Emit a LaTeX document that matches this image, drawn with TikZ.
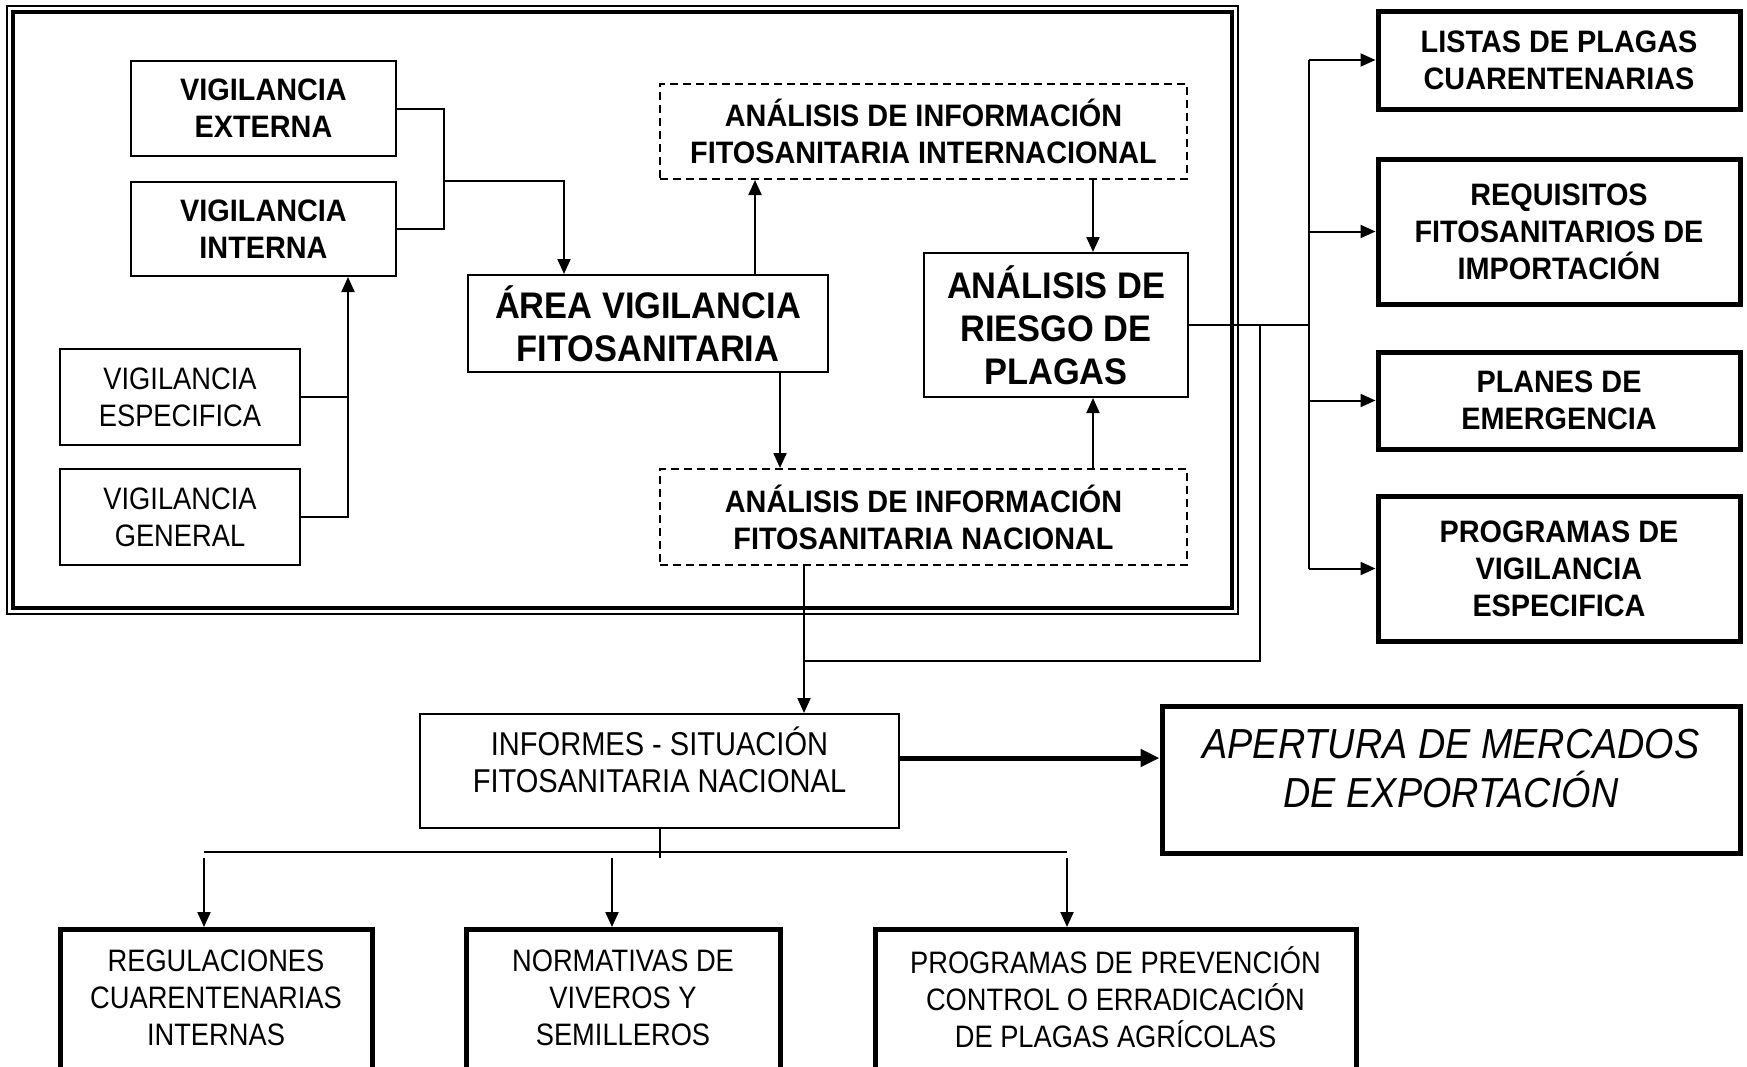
\documentclass[tikz,border=0pt]{standalone}
\usepackage{fontspec}
\setmainfont[UprightFeatures={FakeStretch=0.88}, ItalicFeatures={FakeStretch=0.9}, BoldFeatures={FakeStretch=0.93}]{Liberation Sans}
\usetikzlibrary{arrows.meta}
\newcommand{\boxtxt}{\fontsize{31}{37}\selectfont}
\newcommand{\inftxt}{\fontsize{33}{37}\selectfont}
\newcommand{\bigtxt}{\fontsize{37}{43}\selectfont}
\newcommand{\apertxt}{\fontsize{42}{49}\selectfont}
\tikzset{
  caja/.style={draw, line width=2pt, align=center, font=\boxtxt, inner sep=0pt},
  cajab/.style={caja, line width=5pt},
  cajad/.style={caja, dash pattern=on 8pt off 5pt},
  linea/.style={line width=2pt},
  flecha/.style={line width=2pt, -{Triangle[length=15pt,width=13pt]}},
  flechab/.style={line width=5pt, -{Triangle[length=19pt,width=17pt]}}
}

\begin{document}
\begin{tikzpicture}[x=1pt,y=-1pt]
\useasboundingbox (0,0) rectangle (1747,1066);
\draw[line width=2pt] (7,6) rectangle (1238,614);
\draw[line width=3.5pt] (13,12) rectangle (1232,608);

\node[caja, font=\boxtxt\bfseries, minimum width=265pt, minimum height=95pt] (ext) at (263.5,108.5) {VIGILANCIA\\EXTERNA};
\node[caja, font=\boxtxt\bfseries, minimum width=265pt, minimum height=94pt] (int) at (263.5,229) {VIGILANCIA\\INTERNA};
\node[caja, minimum width=240pt, minimum height=96pt] (esp) at (180,397) {VIGILANCIA\\ESPECIFICA};
\node[caja, minimum width=240pt, minimum height=96pt] (gen) at (180,517) {VIGILANCIA\\GENERAL};
\node[caja, font=\bigtxt\bfseries, minimum width=360pt, minimum height=97pt] (area) at (648,323.5) {ÁREA VIGILANCIA\\FITOSANITARIA};
\node[cajad, font=\boxtxt\bfseries, minimum width=527pt, minimum height=95pt] (infint) at (923.5,131.5) {ANÁLISIS DE INFORMACIÓN\\FITOSANITARIA INTERNACIONAL};
\node[caja, font=\bigtxt\bfseries, minimum width=264pt, minimum height=144pt] (arp) at (1056,325) {ANÁLISIS DE\\RIESGO DE\\PLAGAS};
\node[cajad, font=\boxtxt\bfseries, minimum width=527pt, minimum height=96pt] (infnac) at (923.5,517) {ANÁLISIS DE INFORMACIÓN\\FITOSANITARIA NACIONAL};

\node[cajab, font=\boxtxt\bfseries, minimum width=362pt, minimum height=98pt] (listas) at (1559,60) {LISTAS DE PLAGAS\\CUARENTENARIAS};
\node[cajab, font=\boxtxt\bfseries, minimum width=362pt, minimum height=145pt] (req) at (1559,231.5) {REQUISITOS\\FITOSANITARIOS DE\\IMPORTACIÓN};
\node[cajab, font=\boxtxt\bfseries, minimum width=362pt, minimum height=97pt] (planes) at (1559,400.5) {PLANES DE\\EMERGENCIA};
\node[cajab, font=\boxtxt\bfseries, minimum width=362pt, minimum height=145pt] (progvig) at (1559,568.5) {PROGRAMAS DE\\VIGILANCIA\\ESPECIFICA};

\node[caja, font=\inftxt, minimum width=479pt, minimum height=114pt, text depth=22pt] (informes) at (659.5,771) {INFORMES - SITUACIÓN\\FITOSANITARIA NACIONAL};
\node[cajab, font=\apertxt\itshape, minimum width=578pt, minimum height=147pt, text depth=22pt] (apertura) at (1451,779.5) {APERTURA DE MERCADOS\\DE EXPORTACIÓN};

\node[cajab, anchor=north, minimum width=312pt, minimum height=150pt, text depth=14pt] (reg) at (216,927) {REGULACIONES\\CUARENTENARIAS\\INTERNAS};
\node[cajab, anchor=north, minimum width=314pt, minimum height=150pt, text depth=14pt] (norm) at (623,927) {NORMATIVAS DE\\VIVEROS Y\\SEMILLEROS};
\node[cajab, anchor=north, minimum width=481pt, minimum height=150pt, text depth=14pt] (prev) at (1115.5,927) {PROGRAMAS DE PREVENCIÓN\\CONTROL O ERRADICACIÓN\\DE PLAGAS AGRÍCOLAS};

\coordinate (j1) at (444,181);
\coordinate (j2) at (348,517);
\coordinate (xa) at (564,0);
\coordinate (xb) at (755,0);
\coordinate (xc) at (780,0);
\coordinate (xd) at (1093,0);
\coordinate (xe) at (804,0);
\coordinate (xf) at (1260,0);
\coordinate (xg) at (1309,0);
\coordinate (yr) at (0,661);
\coordinate (ys) at (0,758);
\coordinate (yt) at (0,852);
\coordinate (b1) at (204,858);
\coordinate (b2) at (612,858);
\coordinate (b3) at (1067,858);

\draw[linea] (ext.east) -| (j1) |- (int.east);
\draw[flecha] (j1) -| (xa |- area.north);
\draw[linea] (esp.east) -| (j2);
\draw[flecha] (gen.east) -| (int.south -| j2);
\draw[flecha] (xb |- area.north) -- (xb |- infint.south);
\draw[flecha] (xc |- area.south) -- (xc |- infnac.north);
\draw[flecha] (xd |- infint.south) -- (xd |- arp.north);
\draw[flecha] (xd |- infnac.north) -- (xd |- arp.south);

\draw[linea] (arp.east) -- (xg |- arp.east);
\draw[linea] (xg |- listas.west) -- (xg |- progvig.west);
\foreach \b in {listas,req,planes,progvig}
  \draw[flecha] (xg |- \b.west) -- (\b.west);

\draw[linea] (xf |- arp.east) |- (xe |- yr);
\draw[flecha] (xe |- infnac.south) -- (xe |- informes.north);
\draw[flechab] (informes.east |- ys) -- (apertura.west |- ys);

\draw[linea] (informes.south) -- (informes.south |- b1);
\draw[linea] (b1 |- yt) -- (b3 |- yt);
\draw[flecha] (b1) -- (b1 |- reg.north);
\draw[flecha] (b2) -- (b2 |- norm.north);
\draw[flecha] (b3) -- (b3 |- prev.north);
\end{tikzpicture}
\end{document}
